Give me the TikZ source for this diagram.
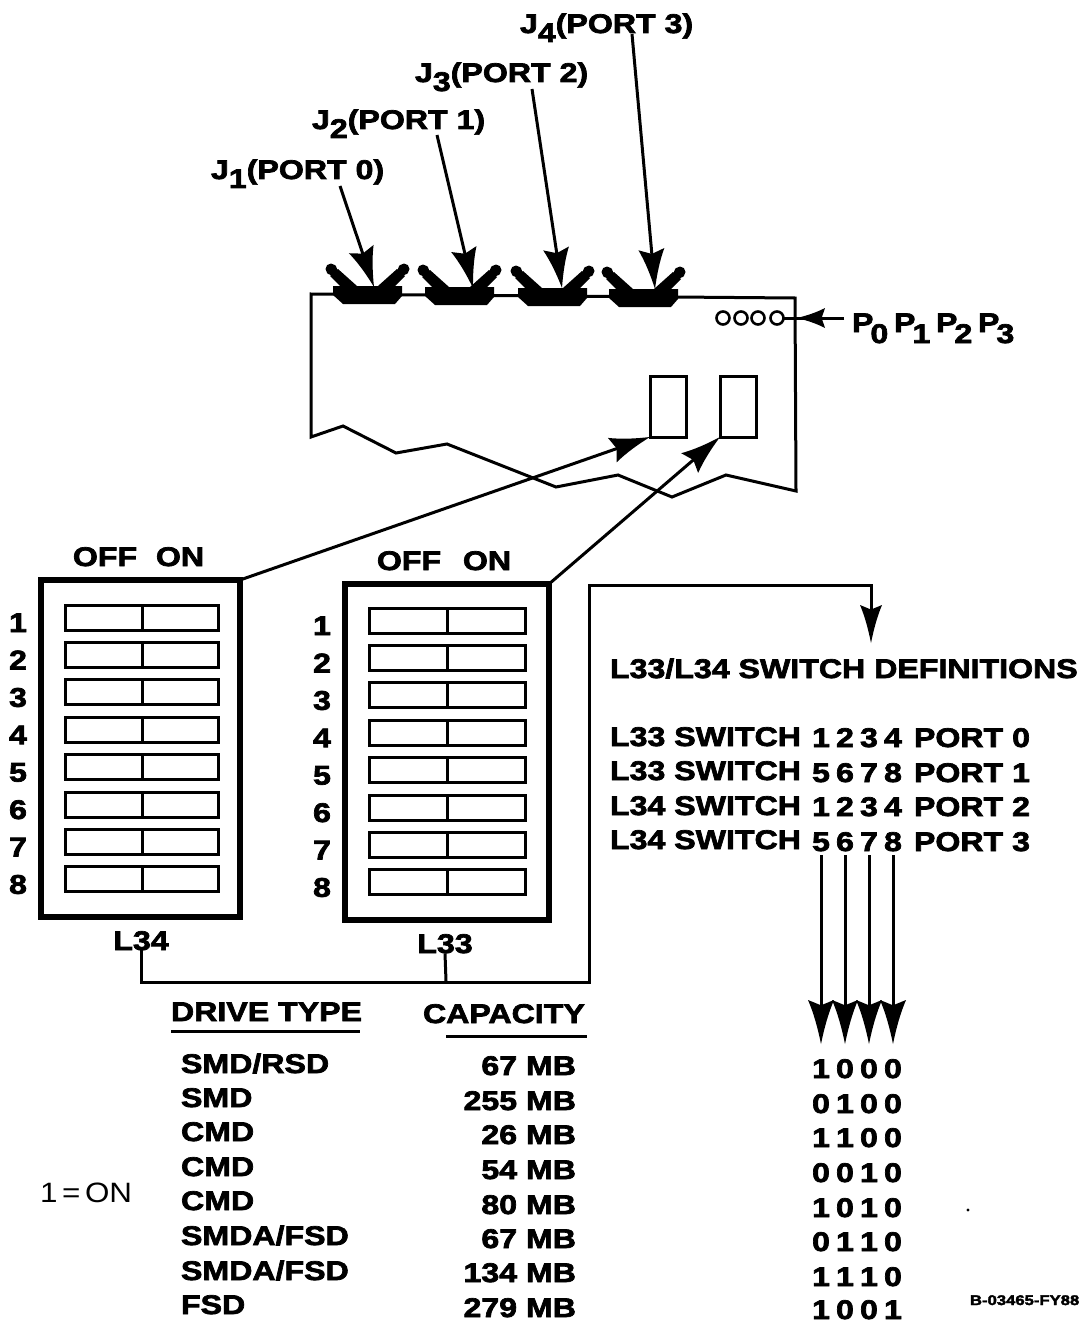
\documentclass[tikz,border=0pt]{standalone}
\usepackage{fontspec}
\setmainfont[BoldFeatures={FakeBold=2.6,FakeStretch=1.19}]{Liberation Sans}
\usetikzlibrary{arrows.meta, positioning}
\newcommand{\subdrop}[1]{\raisebox{-9pt}{#1}}
\newcommand{\pinlabel}[1]{\makebox[42pt][l]{P\hspace{-3pt}\raisebox{-11pt}{#1}}}
\newcommand{\bitrow}[4]{\makebox[24pt]{#1}\makebox[24pt]{#2}\makebox[24pt]{#3}\makebox[24pt]{#4}}
\pgfdeclarearrow{
    name=Barb,
    defaults={length=38pt, width=23pt},
    setup code={
        \pgfarrowssettipend{\pgfarrowlength}
        \pgfarrowssetbackend{0pt}
        \pgfarrowssetlineend{.2\pgfarrowlength}
        \pgfarrowssetvisualbackend{.1\pgfarrowlength}
        \pgfarrowssavethe\pgfarrowlength
        \pgfarrowssavethe\pgfarrowwidth
    },
    drawing code={
        \pgfpathmoveto{\pgfqpoint{\pgfarrowlength}{0pt}}
        \pgfpathcurveto{\pgfqpoint{.65\pgfarrowlength}{.12\pgfarrowwidth}}{\pgfqpoint{.3\pgfarrowlength}{.28\pgfarrowwidth}}{\pgfqpoint{0pt}{.5\pgfarrowwidth}}
        \pgfpathlineto{\pgfqpoint{.12\pgfarrowlength}{0pt}}
        \pgfpathlineto{\pgfqpoint{0pt}{-.5\pgfarrowwidth}}
        \pgfpathcurveto{\pgfqpoint{.3\pgfarrowlength}{-.28\pgfarrowwidth}}{\pgfqpoint{.65\pgfarrowlength}{-.12\pgfarrowwidth}}{\pgfqpoint{\pgfarrowlength}{0pt}}
        \pgfusepathqfill
    },
    parameters={\the\pgfarrowlength,\the\pgfarrowwidth}
}

\begin{document}
\begin{tikzpicture}[
    x=1pt, y=-1pt,
    every node/.style={font=\fontsize{27}{30}\selectfont\bfseries, inner sep=0pt, outer sep=0pt},
    txt/.style={anchor=base west},
    txtright/.style={anchor=base east},
    txtmid/.style={anchor=base},
    swbox/.style={rectangle, draw, line width=5.5pt, anchor=north west},
    toggle/.style={rectangle, draw, line width=3pt, anchor=north west, minimum height=25pt},
    dip/.style={rectangle, draw, line width=3pt, anchor=north west, minimum width=36pt, minimum height=61pt},
    pin/.style={circle, draw, line width=2.6pt, minimum size=13pt},
    wire/.style={line width=3pt},
    arrow/.style={line width=3pt, -{Barb[length=40pt, width=26pt]}},
    jack/.pic={
        \fill (-34,-8) -- (-34,1) -- (-24,10) -- (28,10) -- (35,2) -- (35,-8) -- cycle;
        \fill (-27,-8) -- (-37,-18) -- (-29,-25) -- (-10,-8) -- cycle;
        \fill (28,-8) -- (38,-18) -- (30,-25) -- (11,-8) -- cycle;
        \draw[line width=11pt, line cap=round] (-35,-24) -- (-36,-25);
        \draw[line width=11pt, line cap=round] (36,-24) -- (37,-25);
    }
]
\useasboundingbox (0,0) rectangle (1084,1324);

% board outline
\draw[wire] (311,294) -- (795,298) -- (796,491) -- (726,475) -- (672,497) -- (618,475)
    -- (556,487) -- (447,444) -- (396,453) -- (343,426) -- (311,437) -- cycle;

% port connectors
\path (367,294) pic {jack} (459,295) pic {jack} (552,296) pic {jack} (643,297) pic {jack};

% port labels
\node[txt] (j1) at (211,179) {J\subdrop{1}(PORT 0)};
\node[txt] (j2) at (312,129) {J\subdrop{2}(PORT 1)};
\node[txt] (j3) at (415,82) {J\subdrop{3}(PORT 2)};
\node[txt] (j4) at (520,33) {J\subdrop{4}(PORT 3)};

\coordinate (j1tail) at (340,186);
\coordinate (j2tail) at (437,135);
\coordinate (j3tail) at (532,89);
\coordinate (j4tail) at (632,34);
\coordinate (j1tip) at (374,287);
\coordinate (j2tip) at (473,288);
\coordinate (j3tip) at (562,288);
\coordinate (j4tip) at (655,289);
\foreach \i in {1,2,3,4}
    \draw[arrow] (j\i tail) -- (j\i tip);

% pins on the board
\node[pin] (p0) at (723,318) {};
\node[pin] (p1) at (741,318) {};
\node[pin] (p2) at (758,318) {};
\node[pin] (p3) at (777,318) {};
\node[txt] (ptext) at (852,332) {\pinlabel{0}\pinlabel{1}\pinlabel{2}\pinlabel{3}};
\draw[wire] (ptext.base west |- p3) ++(-8,0) coordinate (ptail) -- (p3.east);
\draw[line width=3pt, -{Barb[length=28pt, width=20pt]}] (ptail) -- (797,318);

% switches on the board
\node[dip] (dip34) at (650,376) {};
\node[dip] (dip33) at (720,376) {};

% switch packs
\node[swbox, minimum width=199pt, minimum height=337pt] (sw34) at (41,580) {};
\node[swbox, minimum width=204pt, minimum height=336pt] (sw33) at (345,584) {};

\draw[arrow] (sw34.north east) -- (dip34.south west);
\draw[arrow] (sw33.north east) -- (dip33.south west);

\node[txtmid] (off34) at (105,566) {OFF};
\node[txtmid] (on34) at (180,566) {ON};
\node[txtmid] (off33) at (409,570) {OFF};
\node[txtmid] (on33) at (487,570) {ON};

\foreach \i [evaluate=\i as \ya using {605+37.4*(\i-1)},
             evaluate=\i as \yb using {608+37.4*(\i-1)}] in {1,...,8} {
    \node[toggle, minimum width=153pt] (a\i) at (65,\ya) {};
    \draw[wire] (a\i.north west) ++(77,0) -- ++(0,25);
    \node[txtmid] (na\i) at (18,\ya+27) {\i};
    \node[toggle, minimum width=156pt] (b\i) at (369,\yb) {};
    \draw[wire] (b\i.north west) ++(78,0) -- ++(0,25);
    \node[txtmid] (nb\i) at (322,\yb+27) {\i};
}

\node[txtmid] (tag34) at (141,950) {L34};
\node[txtmid] (tag33) at (445,953) {L33};

% common line to the definitions
\coordinate (busjoin) at (446,981);
\coordinate (busturn) at (589,982);
\coordinate (deftip) at (871,643);
\draw[wire] (tag33.south) -- (busjoin);
\draw[line width=3pt, -{Barb[length=38pt, width=22pt]}] (tag34.south) |- (busturn) -- (589,585) -| (deftip);

% definitions
\node[txt] (deftitle) at (610,678) {L33/L34 SWITCH DEFINITIONS};
\node[txt] (def1) at (610,746) {L33 SWITCH};
\node[txt] (def2) at (610,780) {L33 SWITCH};
\node[txt] (def3) at (610,815) {L34 SWITCH};
\node[txt] (def4) at (610,849) {L34 SWITCH};
\node[txt] (port1) at (809,747) {\bitrow{1}{2}{3}{4}\hspace{9pt}PORT 0};
\node[txt] (port2) at (809,782) {\bitrow{5}{6}{7}{8}\hspace{9pt}PORT 1};
\node[txt] (port3) at (809,816) {\bitrow{1}{2}{3}{4}\hspace{9pt}PORT 2};
\node[txt] (port4) at (809,851) {\bitrow{5}{6}{7}{8}\hspace{9pt}PORT 3};

\foreach \n/\x in {a/821,b/845,c/869,d/893} {
    \coordinate (\n top) at (\x,855);
    \coordinate (\n tip) at (\x,1044);
    \draw[line width=3pt, -{Barb[length=44pt, width=26pt]}] (\n top) -- (\n tip);
}

% drive table
\node[txt] (drivehead) at (171,1021) {DRIVE TYPE};
\node[txt] (caphead) at (423,1023) {CAPACITY};
\coordinate (driveline) at (171,1031);
\coordinate (capline) at (446,1036);
\draw[wire] (driveline) -- ++(189,0);
\draw[wire] (capline) -- ++(141,0);

\node[txt] (t1) at (181,1073) {SMD/RSD};
\node[txt] (t2) at (181,1107) {SMD};
\node[txt] (t3) at (181,1141) {CMD};
\node[txt] (t4) at (181,1176) {CMD};
\node[txt] (t5) at (181,1210) {CMD};
\node[txt] (t6) at (181,1245) {SMDA/FSD};
\node[txt] (t7) at (181,1280) {SMDA/FSD};
\node[txt] (t8) at (181,1314) {FSD};

\node[txtright] (c1) at (576,1075) {67 MB};
\node[txtright] (c2) at (576,1110) {255 MB};
\node[txtright] (c3) at (576,1144) {26 MB};
\node[txtright] (c4) at (576,1179) {54 MB};
\node[txtright] (c5) at (576,1214) {80 MB};
\node[txtright] (c6) at (576,1248) {67 MB};
\node[txtright] (c7) at (576,1282) {134 MB};
\node[txtright] (c8) at (576,1317) {279 MB};

\node[txt] (v1) at (809,1078) {\bitrow{1}{0}{0}{0}};
\node[txt] (v2) at (809,1113) {\bitrow{0}{1}{0}{0}};
\node[txt] (v3) at (809,1147) {\bitrow{1}{1}{0}{0}};
\node[txt] (v4) at (809,1182) {\bitrow{0}{0}{1}{0}};
\node[txt] (v5) at (809,1217) {\bitrow{1}{0}{1}{0}};
\node[txt] (v6) at (809,1251) {\bitrow{0}{1}{1}{0}};
\node[txt] (v7) at (809,1286) {\bitrow{1}{1}{1}{0}};
\node[txt] (v8) at (809,1319) {\bitrow{1}{0}{0}{1}};

\node[txt, font=\fontsize{28}{30}\selectfont\addfontfeature{FakeStretch=1.12}] (oneon) at (40,1202) {1\,=\,ON};
\node[txt, font=\fontsize{14}{16}\selectfont\bfseries] (figno) at (970,1305) {B-03465-FY88};
\fill (968,1210) circle (1.6);

\end{tikzpicture}
\end{document}
